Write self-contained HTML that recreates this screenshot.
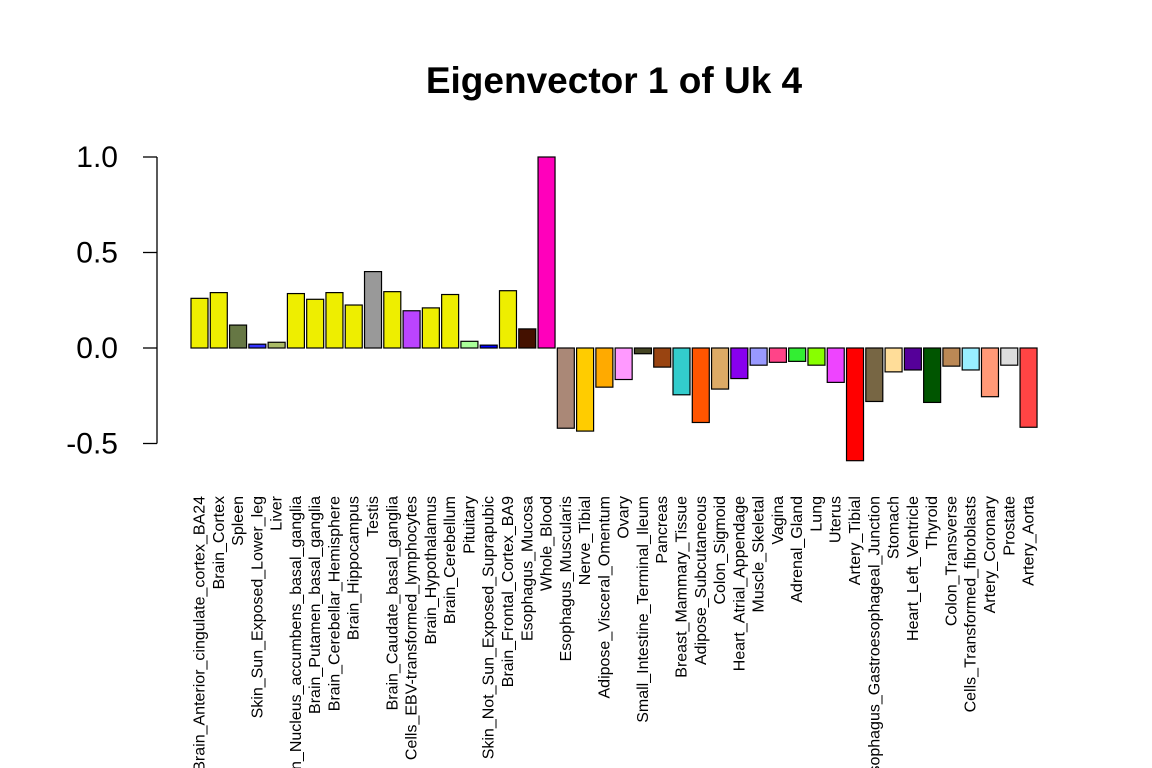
<!DOCTYPE html>
<html><head><meta charset="utf-8"><style>
html,body{margin:0;padding:0;background:#fff;}
svg{display:block;font-family:"Liberation Sans",Arial,sans-serif;}
</style></head><body>
<svg id="chart" width="1152" height="768" viewBox="0 0 1152 768">
<text x="614" y="93" text-anchor="middle" font-size="37" font-weight="bold">Eigenvector 1 of Uk 4</text>
<g id="yaxis"></g>
<g id="bars"></g>
<g id="xlabels"></g>
</svg>
<script>
const categories=["Brain_Anterior_cingulate_cortex_BA24","Brain_Cortex","Spleen","Skin_Sun_Exposed_Lower_leg","Liver","Brain_Nucleus_accumbens_basal_ganglia","Brain_Putamen_basal_ganglia","Brain_Cerebellar_Hemisphere","Brain_Hippocampus","Testis","Brain_Caudate_basal_ganglia","Cells_EBV-transformed_lymphocytes","Brain_Hypothalamus","Brain_Cerebellum","Pituitary","Skin_Not_Sun_Exposed_Suprapubic","Brain_Frontal_Cortex_BA9","Esophagus_Mucosa","Whole_Blood","Esophagus_Muscularis","Nerve_Tibial","Adipose_Visceral_Omentum","Ovary","Small_Intestine_Terminal_Ileum","Pancreas","Breast_Mammary_Tissue","Adipose_Subcutaneous","Colon_Sigmoid","Heart_Atrial_Appendage","Muscle_Skeletal","Vagina","Adrenal_Gland","Lung","Uterus","Artery_Tibial","Esophagus_Gastroesophageal_Junction","Stomach","Heart_Left_Ventricle","Thyroid","Colon_Transverse","Cells_Transformed_fibroblasts","Artery_Coronary","Prostate","Artery_Aorta"];
const values=[0.26,0.29,0.12,0.02,0.03,0.285,0.255,0.29,0.225,0.40,0.295,0.195,0.21,0.28,0.035,0.015,0.30,0.10,1.0,-0.42,-0.435,-0.205,-0.165,-0.03,-0.10,-0.245,-0.39,-0.215,-0.16,-0.09,-0.075,-0.07,-0.09,-0.18,-0.59,-0.28,-0.125,-0.115,-0.285,-0.095,-0.115,-0.255,-0.09,-0.415];
const colors=["#EEEE00","#EEEE00","#667744","#3333FF","#AABB66","#EEEE00","#EEEE00","#EEEE00","#EEEE00","#999999","#EEEE00","#BB44FF","#EEEE00","#EEEE00","#AAFF99","#0000FF","#EEEE00","#441100","#FF00BB","#AA8877","#FFCC00","#FFAA00","#FF99FF","#444422","#994411","#33CCCC","#FF5500","#DDAA66","#8800EE","#9999FF","#FF4488","#33EE33","#88FF00","#EE44FF","#FF0000","#776644","#FFDD99","#550099","#005500","#BB8855","#99EEFF","#FF9977","#DDDDDD","#FF4444"];
const yTicks=[-0.5,0,0.5,1];
const yTickLabels=["-0.5","0.0","0.5","1.0"];
const NS="http://www.w3.org/2000/svg";
function y(v){return 348-v*191;}
function xl(i){return 191+i*19.28;}
const bw=17;
const ya=document.getElementById('yaxis');
let ax=document.createElementNS(NS,'line');


ax.setAttribute('x1',157);ax.setAttribute('x2',157);ax.setAttribute('y1',y(1));ax.setAttribute('y2',y(-0.5));ax.setAttribute('stroke','#000');ax.setAttribute('stroke-width',1.3);
ya.appendChild(ax);
yTicks.forEach((t,i)=>{
 const l=document.createElementNS(NS,'line');
 
 
 l.setAttribute('x1',143);l.setAttribute('x2',157);l.setAttribute('y1',y(t));l.setAttribute('y2',y(t));l.setAttribute('stroke','#000');l.setAttribute('stroke-width',1.3);
 ya.appendChild(l);
 const tx=document.createElementNS(NS,'text');
 
 
 tx.setAttribute('x',118);tx.setAttribute('y',y(t)+10);tx.setAttribute('text-anchor','end');tx.setAttribute('font-size','30');
 tx.textContent=yTickLabels[i];
 ya.appendChild(tx);
});
const bg=document.getElementById('bars'),lg=document.getElementById('xlabels');
values.forEach((v,i)=>{
 const r=document.createElementNS(NS,'rect');
 
 
 const top=Math.min(y(v),y(0)),h=Math.abs(y(v)-y(0));
 r.setAttribute('x',xl(i));r.setAttribute('y',top);r.setAttribute('width',bw);r.setAttribute('height',h);
 r.setAttribute('fill',colors[i]);r.setAttribute('stroke','#000');r.setAttribute('stroke-width',1.2);
 bg.appendChild(r);
 const t=document.createElementNS(NS,'text');
 
 
 const cx=xl(i)+bw/2+5;
 t.setAttribute('transform','translate('+cx+',496) rotate(-90)');
 t.setAttribute('text-anchor','end');t.setAttribute('font-size','16');
 t.textContent=categories[i];
 lg.appendChild(t);
});
</script>
</body></html>
